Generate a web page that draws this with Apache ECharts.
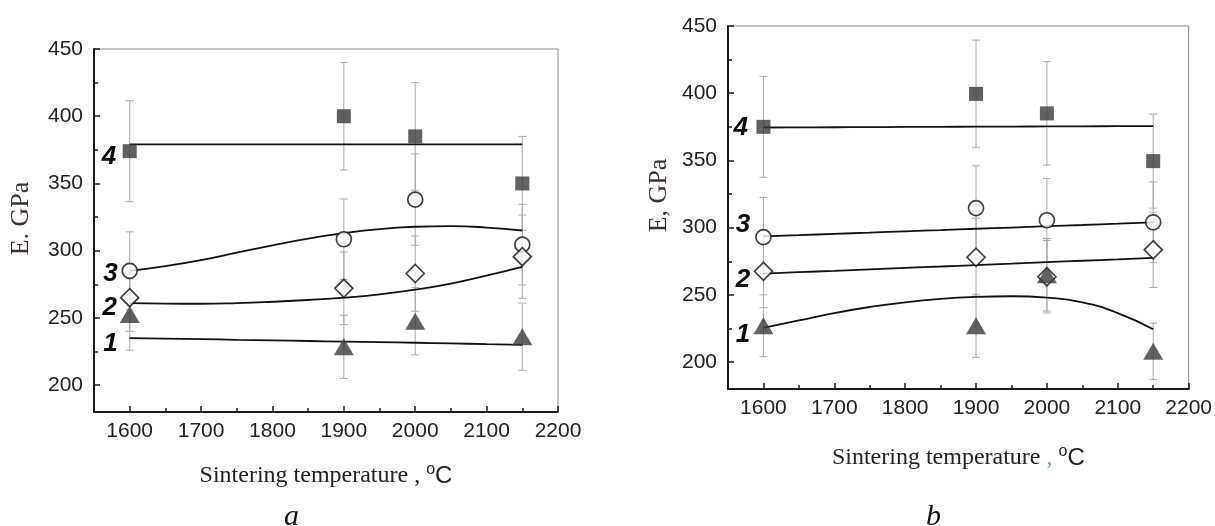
<!DOCTYPE html>
<html>
<head>
<meta charset="utf-8">
<script src="https://cdn.jsdelivr.net/npm/echarts@6/dist/echarts.min.js"></script>
<style>
html,body{margin:0;padding:0;background:#fff;}
#chart{width:1215px;height:526px;}
</style>
</head>
<body>
<div id="chart"></div>
<script>
// ---------- data ----------
const temps = [1600, 1900, 2000, 2150];
const xMajor = [1600, 1700, 1800, 1900, 2000, 2100, 2200];
const xMinor = [1650, 1750, 1850, 1950, 2050, 2150];
const yMajor = [200, 250, 300, 350, 400, 450];
const yMinor = [225, 275, 325, 375, 425];

// panel a
const aSquare = [374, 400, 385, 350];
const aSquareErr = [37.5, 40, 40, 35];
const aCircle = [285, 308.5, 338, 304.5];
const aCircleErr = [29, 30, 34, 30];
const aDiamond = [265, 272, 283, 295.5];
const aDiamondErr = [25, 27, 28, 31];
const aTriangle = [252.5, 228.5, 247.5, 236];
const aTriangleErr = [26.5, 23.5, 25, 25];

const aFitX = [1600, 1650, 1700, 1750, 1800, 1850, 1900, 1950, 2000, 2050, 2100, 2150];
const aFit4 = [379, 379, 379, 379, 379, 379, 379, 379, 379, 379, 379, 379];
const aFit3 = [285, 288.5, 293, 298.5, 304, 309, 313, 316, 317.8, 318.2, 317.2, 315];
const aFit2 = [261, 260.6, 260.5, 261, 262, 263.3, 265, 267.5, 271, 275.5, 281.5, 288];
const aFit1 = [235, 234.6, 234.2, 233.7, 233.3, 232.8, 232.4, 232, 231.5, 231, 230.5, 230];

const aLabelX = [1571, 1573, 1572, 1573];
const aLabelY = [370, 282.5, 257.5, 231];

// panel b
const bSquare = [375, 399.5, 385, 349.5];
const bSquareErr = [37.5, 40, 38.5, 35];
const bCircle = [293, 314.5, 305.5, 304];
const bCircleErr = [29.5, 31.5, 31, 30];
const bDiamond = [267.5, 278, 263.5, 283.5];
const bDiamondErr = [27, 29, 27, 28];
const bTriangle = [227, 227, 265, 208];
const bTriangleErr = [23, 23.5, 27, 21];

const bFitX = [1600, 1650, 1700, 1750, 1800, 1850, 1900, 1950, 2000, 2050, 2100, 2150];
const bFit4 = [374.5, 374.6, 374.7, 374.8, 374.9, 375, 375.1, 375.2, 375.3, 375.4, 375.5, 375.6];
const bFit3 = [293.5, 294.4, 295.4, 296.3, 297.3, 298.2, 299.2, 300.1, 301.1, 302, 303, 304];
const bFit2 = [265.8, 266.9, 267.9, 269, 270.1, 271.1, 272.2, 273.2, 274.3, 275.4, 276.4, 277.5];
const bFit1 = [225.5, 231, 236.5, 241, 244.5, 247, 248.5, 249, 248, 244.5, 236.5, 224.5];

const bLabelX = [1568, 1571, 1571, 1571];
const bLabelY = [374, 302, 261, 220.5];

const labelText = ['4', '3', '2', '1'];

// ---------- helpers ----------
const zip = (xs, ys) => xs.map((x, i) => [x, ys[i]]);
const zip3 = (xs, ys, es) => xs.map((x, i) => [x, ys[i], es[i]]);

function errRender(params, api) {
  const x = api.value(0), y = api.value(1), e = api.value(2);
  const t = api.coord([x, y + e]);
  const b = api.coord([x, y - e]);
  const cw = 4;
  const st = { stroke: '#ababab', lineWidth: 1 };
  return {
    type: 'group',
    children: [
      { type: 'line', shape: { x1: t[0], y1: t[1], x2: b[0], y2: b[1] }, style: st },
      { type: 'line', shape: { x1: t[0] - cw, y1: t[1], x2: t[0] + cw, y2: t[1] }, style: st },
      { type: 'line', shape: { x1: b[0] - cw, y1: b[1], x2: b[0] + cw, y2: b[1] }, style: st }
    ]
  };
}

const SANS = 'Liberation Sans, Arial, sans-serif';
const SERIF = 'Liberation Serif, Times New Roman, serif';
const plain = v => String(v);

function xAxes(grid, nameRich) {
  return [
    {
      type: 'value', gridIndex: grid, min: 1550, max: 2200, position: 'bottom',
      axisLine: { show: true, onZero: false, lineStyle: { color: '#1a1a1a', width: 2 } },
      axisTick: { show: true, inside: true, length: 6, customValues: xMajor, lineStyle: { color: '#1a1a1a', width: 1.5 } },
      axisLabel: { customValues: xMajor, formatter: plain, fontSize: 21, color: '#222', margin: 9, fontFamily: SANS },
      splitLine: { show: false },
      name: nameRich.text, nameLocation: 'middle', nameGap: nameRich.gap,
      nameTextStyle: { rich: nameRich.rich }
    },
    {
      type: 'value', gridIndex: grid, min: 1550, max: 2200, position: 'bottom',
      axisLine: { show: false },
      axisTick: { show: true, inside: true, length: 4, customValues: xMinor, lineStyle: { color: '#1a1a1a', width: 1.5 } },
      axisLabel: { show: false },
      splitLine: { show: false }
    }
  ];
}
function yAxes(grid, name, gap) {
  return [
    {
      type: 'value', gridIndex: grid, min: 180, max: 450, position: 'left',
      axisLine: { show: true, onZero: false, lineStyle: { color: '#1a1a1a', width: 2 } },
      axisTick: { show: true, inside: true, length: 6, customValues: yMajor, lineStyle: { color: '#1a1a1a', width: 1.5 } },
      axisLabel: { customValues: yMajor, formatter: plain, fontSize: 21, color: '#222', margin: 11, fontFamily: SANS },
      splitLine: { show: false },
      name: name, nameLocation: 'middle', nameGap: gap,
      nameTextStyle: { fontFamily: SERIF, fontSize: 26, color: '#3d302b', padding: [0, 0, 0, 24] }
    },
    {
      type: 'value', gridIndex: grid, min: 180, max: 450, position: 'left',
      axisLine: { show: false },
      axisTick: { show: true, inside: true, length: 4, customValues: yMinor, lineStyle: { color: '#1a1a1a', width: 1.5 } },
      axisLabel: { show: false },
      splitLine: { show: false }
    }
  ];
}

const baseRich = {
  t: { fontFamily: SERIF, fontSize: 24, color: '#222' },
  d: { fontFamily: SERIF, fontSize: 24, color: '#6f9fd8' },
  o: { fontFamily: SANS, fontSize: 16, color: '#222', padding: [0, 0, 12, 0] },
  c: { fontFamily: SANS, fontSize: 24, color: '#222' }
};

function panelSeries(xi, yi, d) {
  const s = [];
  const errSets = [[d.sq, d.sqE], [d.ci, d.ciE], [d.di, d.diE], [d.tr, d.trE]];
  errSets.forEach(([v, e]) => {
    s.push({ type: 'custom', xAxisIndex: xi, yAxisIndex: yi, renderItem: errRender, data: zip3(temps, v, e), z: 1, silent: true });
  });
  [d.f4, d.f3, d.f2, d.f1].forEach(f => {
    s.push({ type: 'line', xAxisIndex: xi, yAxisIndex: yi, data: zip(d.fx, f), smooth: true, symbol: 'none',
      lineStyle: { color: '#111', width: 1.8 }, z: 2, silent: true });
  });
  s.push({ type: 'scatter', xAxisIndex: xi, yAxisIndex: yi, data: zip(temps, d.sq), symbol: 'rect', symbolSize: 14,
    itemStyle: { color: '#3a3a3a' }, z: 3 });
  s.push({ type: 'scatter', xAxisIndex: xi, yAxisIndex: yi, data: zip(temps, d.ci), symbol: 'circle', symbolSize: 15,
    itemStyle: { color: '#fff', borderColor: '#111', borderWidth: 1.7 }, z: 3 });
  s.push({ type: 'scatter', xAxisIndex: xi, yAxisIndex: yi, data: zip(temps, d.di), symbol: 'diamond', symbolSize: 18,
    itemStyle: { color: '#fff', borderColor: '#111', borderWidth: 1.7 }, z: 3 });
  s.push({ type: 'scatter', xAxisIndex: xi, yAxisIndex: yi, data: zip(temps, d.tr), symbol: 'triangle', symbolSize: [20, 17],
    itemStyle: { color: '#3a3a3a' }, z: 4 });
  s.push({ type: 'scatter', xAxisIndex: xi, yAxisIndex: yi,
    data: d.lx.map((x, i) => [x, d.ly[i], labelText[i]]),
    symbolSize: 1, itemStyle: { color: 'rgba(0,0,0,0)' }, z: 5, silent: true,
    label: { show: true, position: 'inside', formatter: p => p.value[2], fontFamily: SANS, fontSize: 26,
      fontWeight: 'bold', fontStyle: 'italic', color: '#0a0a0a', opacity: 1, textBorderWidth: 0 } });
  return s;
}

const chart = echarts.init(document.getElementById('chart'), null, { renderer: 'canvas' });
const option = {
  backgroundColor: '#fff',
  animation: false,
  grid: [
    { left: 94, top: 49, width: 464, height: 363, show: true, borderColor: '#8a8a8a', borderWidth: 1, containLabel: false },
    { left: 728, top: 26, width: 462, height: 363, show: true, borderColor: '#8a8a8a', borderWidth: 1, containLabel: false }
  ],
  xAxis: [
    ...xAxes(0, { text: '{t|Sintering temperature , }{o|o}{c|C}', gap: 50, rich: baseRich }),
    ...xAxes(1, { text: '{t|Sintering temperature }{d|,}{t| }{o|o}{c|C}', gap: 55, rich: baseRich })
  ],
  yAxis: [
    ...yAxes(0, 'E. GPa', 60),
    ...yAxes(1, 'E, GPa', 56)
  ],
  graphic: [
    { type: 'text', left: 284, top: 502, style: { text: 'a', font: 'italic 30px Liberation Serif', fill: '#111' } },
    { type: 'text', left: 926, top: 502, style: { text: 'b', font: 'italic 30px Liberation Serif', fill: '#111' } }
  ],
  series: [
    ...panelSeries(0, 0, { sq: aSquare, sqE: aSquareErr, ci: aCircle, ciE: aCircleErr, di: aDiamond, diE: aDiamondErr,
      tr: aTriangle, trE: aTriangleErr, fx: aFitX, f4: aFit4, f3: aFit3, f2: aFit2, f1: aFit1, lx: aLabelX, ly: aLabelY }),
    ...panelSeries(2, 2, { sq: bSquare, sqE: bSquareErr, ci: bCircle, ciE: bCircleErr, di: bDiamond, diE: bDiamondErr,
      tr: bTriangle, trE: bTriangleErr, fx: bFitX, f4: bFit4, f3: bFit3, f2: bFit2, f1: bFit1, lx: bLabelX, ly: bLabelY })
  ]
};
chart.setOption(option);
</script>
</body>
</html>
